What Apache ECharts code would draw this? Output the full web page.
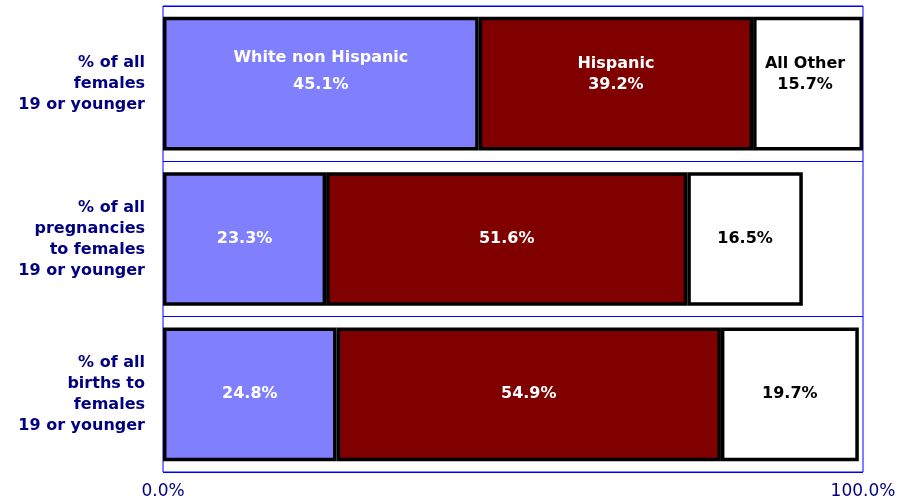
<!DOCTYPE html>
<html><head><meta charset="utf-8">
<script src="https://cdn.jsdelivr.net/npm/echarts@6/dist/echarts.min.js"></script>
<style>html,body{margin:0;padding:0;background:#fff}#c{width:908px;height:501px}</style>
</head><body><div id="c"></div>
<script>
var categories = ['% of all\nfemales\n19 or younger', '% of all\npregnancies\nto females\n19 or younger', '% of all\nbirths to\nfemales\n19 or younger'];
var seriesNames = ['White non Hispanic', 'Hispanic', 'All Other'];
var whiteNonHispanic = [45.1, 23.3, 24.8];
var hispanic = [39.2, 51.6, 54.9];
var allOther = [15.7, 16.5, 19.7];
var xTicks = [0, 100];

var colors = ['#8080FF', '#800000', '#FFFFFF'];
var labelColors = ['#FFFFFF', '#FFFFFF', '#000000'];
var values = [whiteNonHispanic, hispanic, allOther];

function build(si) {
  return values[si].map(function (v, i) {
    var item = { value: v };
    if (i === 0) {
      item.label = {
        formatter: seriesNames[si] + '\n' + v.toFixed(1) + '%',
        lineHeight: si === 0 ? 27 : 21,
        offset: [si === 2 ? -3 : 0, si === 0 ? -12 : -9]
      };
    }
    return item;
  });
}

var series = seriesNames.map(function (n, si) {
  return {
    name: n, type: 'bar', stack: 'all', barCategoryGap: '14%',
    data: build(si),
    itemStyle: { color: colors[si], borderColor: '#000', borderWidth: 3.5 },
    label: {
      show: true, position: 'inside', color: labelColors[si],
      fontFamily: 'DejaVu Sans', fontWeight: 'bold', fontSize: 16,
      formatter: function (p) { return p.value.toFixed(1) + '%'; }
    }
  };
});

var chart = echarts.init(document.getElementById('c'));
chart.setOption({
  animation: false,
  grid: { left: 163, right: 45, top: 6, bottom: 29, show: true, borderColor: '#0000FF', borderWidth: 1 },
  xAxis: {
    type: 'value', min: xTicks[0], max: xTicks[1], interval: 100,
    axisLine: { show: false }, axisTick: { show: false }, splitLine: { show: false },
    axisLabel: { color: '#000080', fontFamily: 'DejaVu Sans', fontSize: 17, margin: 11,
      formatter: function (v) { return v.toFixed(1) + '%'; } }
  },
  yAxis: {
    type: 'category', data: categories, inverse: true,
    axisLine: { show: false }, axisTick: { show: false },
    splitLine: { show: true, lineStyle: { color: '#0000FF', width: 1 } },
    axisLabel: { color: '#000080', fontFamily: 'DejaVu Sans', fontWeight: 'bold', fontSize: 16,
      lineHeight: 21, align: 'right', margin: 18 }
  },
  series: series
});
</script></body></html>
